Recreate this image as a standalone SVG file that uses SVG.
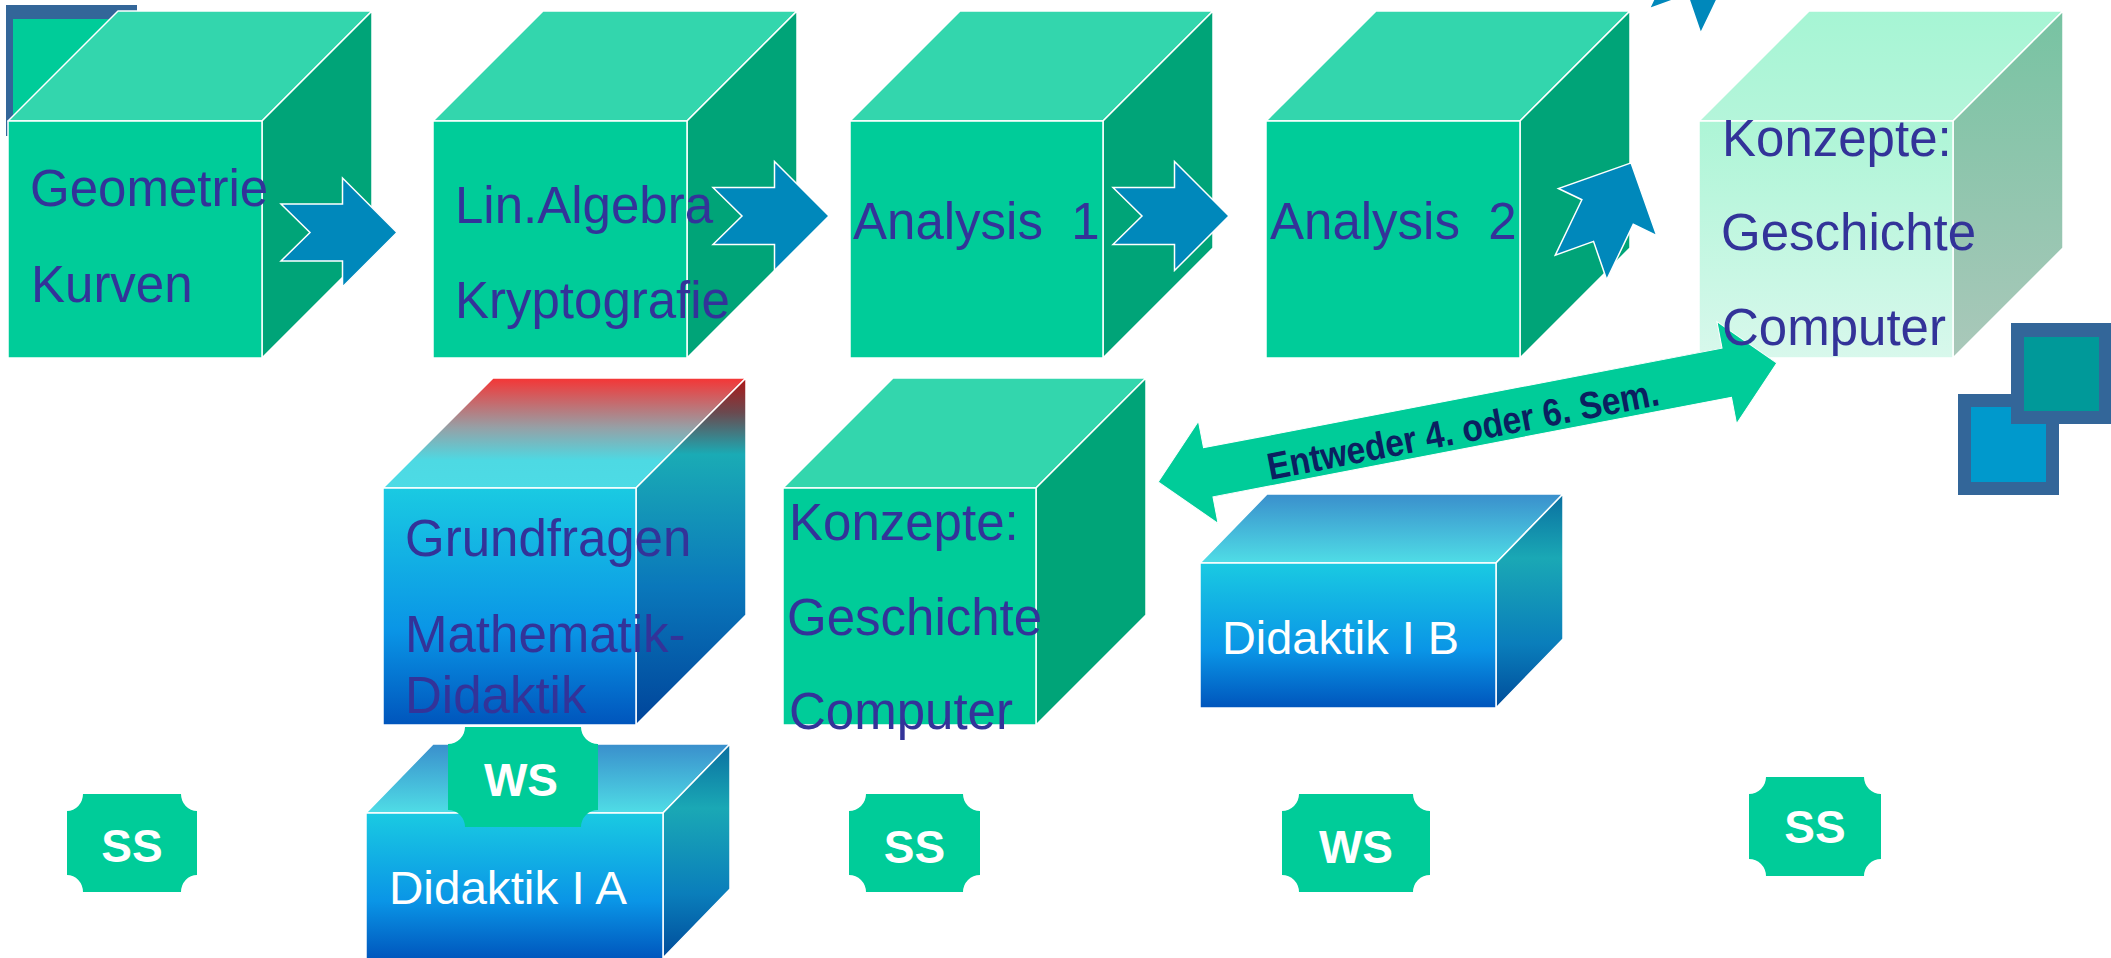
<svg xmlns="http://www.w3.org/2000/svg" width="2111" height="958" viewBox="0 0 2111 958">
<style>
.lbl{font-family:"Liberation Sans",Arial,sans-serif;font-size:51px;fill:#333399}
.wl{font-family:"Liberation Sans",Arial,sans-serif;font-size:47px;fill:#ffffff}
.bt{font-family:"Liberation Sans",Arial,sans-serif;font-size:46px;font-weight:bold;fill:#ffffff;text-anchor:middle}
.edge{stroke:#ffffff;stroke-width:1.5;stroke-linejoin:round}
.gt{fill:#33D6AD}.gf{fill:#00CC99}.gr{fill:#00A478}
.badge{fill:#00CC99}
.arr{fill:#0088BB;stroke:#ffffff;stroke-width:1.5;stroke-linejoin:miter}
</style>
<defs>
<linearGradient id="btop" x1="0" y1="0" x2="0" y2="1"><stop offset="0" stop-color="#3A8FCC"/><stop offset="1" stop-color="#4FDDE6"/></linearGradient>
<linearGradient id="bfront" x1="0" y1="0" x2="0" y2="1"><stop offset="0" stop-color="#1ACAE2"/><stop offset="0.6" stop-color="#0A95E6"/><stop offset="1" stop-color="#0055BC"/></linearGradient>
<linearGradient id="bright" x1="0" y1="0" x2="0" y2="1"><stop offset="0" stop-color="#0A6FA0"/><stop offset="0.3" stop-color="#1AA8B5"/><stop offset="0.7" stop-color="#0A7EBB"/><stop offset="1" stop-color="#004C9A"/></linearGradient>
<linearGradient id="rtop" x1="0" y1="0" x2="0" y2="1"><stop offset="0" stop-color="#F53535"/><stop offset="0.45" stop-color="#96A0A6"/><stop offset="0.75" stop-color="#4DD9E3"/><stop offset="1" stop-color="#4DDBE5"/></linearGradient>
<linearGradient id="rright" x1="0" y1="0" x2="0" y2="1"><stop offset="0" stop-color="#B01515"/><stop offset="0.1" stop-color="#6A4A50"/><stop offset="0.22" stop-color="#1AABB5"/><stop offset="0.6" stop-color="#0A78BB"/><stop offset="1" stop-color="#00449A"/></linearGradient>
<linearGradient id="ltop" x1="0" y1="0" x2="0" y2="1"><stop offset="0" stop-color="#A6F5D4"/><stop offset="1" stop-color="#B4F5DA"/></linearGradient>
<linearGradient id="lfront" x1="0" y1="0" x2="0" y2="1"><stop offset="0" stop-color="#ADF5D6"/><stop offset="1" stop-color="#D8F8EC"/></linearGradient>
<linearGradient id="lright" x1="0" y1="0" x2="0" y2="1"><stop offset="0" stop-color="#77C3A2"/><stop offset="1" stop-color="#AAC8BA"/></linearGradient>
<path id="arrow" d="M0,-28.5 L61.5,-28.5 L61.5,-54.5 L116,0 L61.5,54.5 L61.5,28.5 L0,28.5 L29,0 Z"/>
</defs>

<g id="deco-top-left">
<rect x="6" y="5" width="131" height="131" fill="#336699"/>
<rect x="13" y="19" width="118" height="110" fill="#00CC99"/>
</g>

<g id="node-geometrie">
<polygon class="gt edge" points="8,121 118,11 372,11 262,121"/>
<polygon class="gr edge" points="262,121 372,11 372,248 262,358"/>
<rect class="gf edge" x="8" y="121" width="254" height="237"/>
<text class="lbl" x="30" y="206">Geometrie</text>
<text class="lbl" x="31" y="302">Kurven</text>
</g>

<g id="node-linalg">
<polygon class="gt edge" points="433,121 543,11 797,11 687,121"/>
<polygon class="gr edge" points="687,121 797,11 797,248 687,358"/>
<rect class="gf edge" x="433" y="121" width="254" height="237"/>
<text class="lbl" x="455" y="223">Lin.Algebra</text>
<text class="lbl" x="455" y="318">Kryptografie</text>
</g>

<g id="node-analysis1">
<polygon class="gt edge" points="850,121 960,11 1213,11 1103,121"/>
<polygon class="gr edge" points="1103,121 1213,11 1213,248 1103,358"/>
<rect class="gf edge" x="850" y="121" width="253" height="237"/>
<text class="lbl" x="853" y="239" style="white-space:pre" xml:space="preserve">Analysis  1</text>
</g>

<g id="node-analysis2">
<polygon class="gt edge" points="1266,121 1376,11 1630,11 1520,121"/>
<polygon class="gr edge" points="1520,121 1630,11 1630,248 1520,358"/>
<rect class="gf edge" x="1266" y="121" width="254" height="237"/>
<text class="lbl" x="1270" y="239" style="white-space:pre" xml:space="preserve">Analysis  2</text>
</g>

<g id="node-konzepte-top">
<polygon fill="url(#ltop)" class="edge" points="1699,121 1809,11 2063,11 1953,121"/>
<polygon fill="url(#lright)" class="edge" points="1953,121 2063,11 2063,248 1953,358"/>
<rect fill="url(#lfront)" class="edge" x="1699" y="121" width="254" height="237"/>
</g>

<g id="deco-bottom-right">
<rect x="1958" y="394" width="101" height="101" fill="#336699"/>
<rect x="1971" y="407" width="75" height="75" fill="#0099CC"/>
<rect x="2011" y="323" width="100" height="101" fill="#336699"/>
<rect x="2024" y="337" width="75" height="74" fill="#009999"/>
</g>

<g id="node-grundfragen">
<polygon fill="url(#rtop)" class="edge" points="383,488 493,378 746,378 636,488"/>
<polygon fill="url(#rright)" class="edge" points="636,488 746,378 746,615 636,725"/>
<rect fill="url(#bfront)" class="edge" x="383" y="488" width="253" height="237"/>
<text class="lbl" x="405" y="556">Grundfragen</text>
<text class="lbl" x="405" y="652">Mathematik-</text>
<text class="lbl" x="405" y="713">Didaktik</text>
</g>

<g id="node-konzepte-bottom">
<polygon class="gt edge" points="783,488 893,378 1146,378 1036,488"/>
<polygon class="gr edge" points="1036,488 1146,378 1146,615 1036,725"/>
<rect class="gf edge" x="783" y="488" width="253" height="237"/>
<text class="lbl" x="789" y="540">Konzepte:</text>
<text class="lbl" x="787" y="635">Geschichte</text>
<text class="lbl" x="789" y="729">Computer</text>
</g>

<g id="node-didaktik-1b">
<polygon fill="url(#btop)" class="edge" points="1200,563 1267,494 1563,494 1496,563"/>
<polygon fill="url(#bright)" class="edge" points="1496,563 1563,494 1563,639 1496,708"/>
<rect fill="url(#bfront)" class="edge" x="1200" y="563" width="296" height="145"/>
<text class="wl" x="1222" y="654" textLength="237" lengthAdjust="spacingAndGlyphs">Didaktik I B</text>
</g>

<g id="node-didaktik-1a">
<polygon fill="url(#btop)" class="edge" points="366,813 433,744 730,744 663,813"/>
<polygon fill="url(#bright)" class="edge" points="663,813 730,744 730,889 663,958"/>
<rect fill="url(#bfront)" class="edge" x="366" y="813" width="297" height="147"/>
<text class="wl" x="389" y="904" textLength="238" lengthAdjust="spacingAndGlyphs">Didaktik I A</text>
</g>

<g id="badge-ss-1">
<path class="badge" d="M83,794 H181 A16,17 0 0 0 197,811 V875 A16,17 0 0 0 181,892 H83 A16,17 0 0 0 67,875 V811 A16,17 0 0 0 83,794 Z"/>
<text class="bt" x="132" y="862">SS</text>
</g>

<g id="badge-ws-1">
<path class="badge" d="M465,727 H581 A17,17 0 0 0 598,744 V810 A17,17 0 0 0 581,827 H465 A17,17 0 0 0 448,810 V744 A17,17 0 0 0 465,727 Z"/>
<text class="bt" x="521" y="796">WS</text>
</g>

<g id="badge-ss-2">
<path class="badge" d="M866,794 H963 A17,17 0 0 0 980,811 V875 A17,17 0 0 0 963,892 H866 A17,17 0 0 0 849,875 V811 A17,17 0 0 0 866,794 Z"/>
<text class="bt" x="914.5" y="863">SS</text>
</g>

<g id="badge-ws-2">
<path class="badge" d="M1299,794 H1413 A17,17 0 0 0 1430,811 V875 A17,17 0 0 0 1413,892 H1299 A17,17 0 0 0 1282,875 V811 A17,17 0 0 0 1299,794 Z"/>
<text class="bt" x="1356" y="863">WS</text>
</g>

<g id="badge-ss-3">
<path class="badge" d="M1766,777 H1864 A17,17 0 0 0 1881,794 V859 A17,17 0 0 0 1864,876 H1766 A17,17 0 0 0 1749,859 V794 A17,17 0 0 0 1766,777 Z"/>
<text class="bt" x="1815" y="843">SS</text>
</g>

<g id="connectors">
<use href="#arrow" class="arr" transform="translate(281,232.5)"/>
<use href="#arrow" class="arr" transform="translate(713,216)"/>
<use href="#arrow" class="arr" transform="translate(1113,216)"/>
<use href="#arrow" class="arr" transform="translate(1581,267.5) rotate(-64.4)"/>
<use href="#arrow" class="arr" transform="translate(1675,21) rotate(-64.4)"/>
<g transform="translate(1467.5,422.5) rotate(-10.88)">
<polygon fill="#00CC99" stroke="#ffffff" stroke-width="1" points="-315,0 -264,-52 -264,-25 264,-25 264,-52 315,0 264,52 264,25 -264,25 -264,52"/>
</g>
<text x="1270" y="480" transform="rotate(-10.9 1270 480)" font-family="'Liberation Sans',Arial,sans-serif" font-size="38" font-weight="bold" fill="#0B2060" textLength="398" lengthAdjust="spacingAndGlyphs">Entweder 4. oder 6. Sem.</text>
</g>

<g id="node-konzepte-top-label">
<text class="lbl" x="1722" y="156">Konzepte:</text>
<text class="lbl" x="1721" y="250">Geschichte</text>
<text class="lbl" x="1722" y="345">Computer</text>
</g>
</svg>
